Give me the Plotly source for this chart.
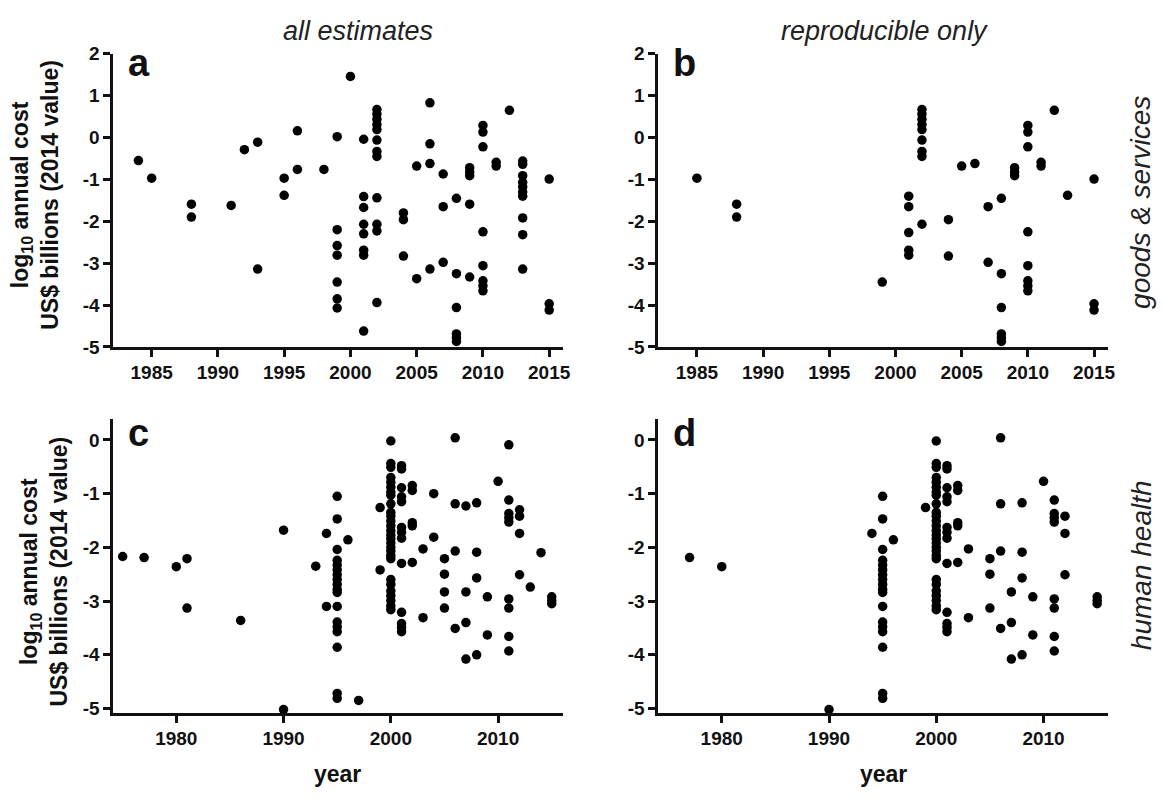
import plotly.graph_objects as go

# ---- data: log10 annual cost (US$ billions, 2014 value) by publication year ----
# goods & services, all estimates
goods_all = {
    1984: [-0.55],
    1985: [-0.97],
    1988: [-1.59, -1.90],
    1991: [-1.62],
    1992: [-0.29],
    1993: [-0.11, -3.14],
    1995: [-0.97, -1.38],
    1996: [0.16, -0.76],
    1998: [-0.76],
    1999: [0.02, -2.20, -2.58, -2.81, -3.45, -3.85, -4.07],
    2000: [1.46],
    2001: [-0.04, -1.41, -1.67, -2.07, -2.30, -2.69, -2.81, -4.62],
    2002: [0.67, 0.56, 0.44, 0.31, 0.19, -0.06, -0.33, -0.45, -1.44, -2.07, -2.23, -3.94],
    2004: [-1.80, -1.96, -2.83],
    2005: [-0.68, -3.37],
    2006: [0.83, -0.15, -0.62, -3.14],
    2007: [-0.87, -1.65, -2.98],
    2008: [-1.45, -3.25, -4.06, -4.69, -4.78, -4.87],
    2009: [-0.72, -0.82, -0.91, -1.59, -3.33],
    2010: [0.29, 0.13, -0.22, -2.25, -3.06, -3.42, -3.54, -3.66],
    2011: [-0.59, -0.68],
    2012: [0.65],
    2013: [-0.56, -0.64, -0.91, -1.07, -1.18, -1.30, -1.40, -1.92, -2.32, -3.14],
    2015: [-0.99, -3.97, -4.12],
}

# goods & services, reproducible estimates only
goods_repro = {
    1985: [-0.97],
    1988: [-1.59, -1.90],
    1999: [-3.45],
    2001: [-1.40, -1.65, -2.27, -2.69, -2.81],
    2002: [0.67, 0.56, 0.44, 0.31, 0.19, -0.06, -0.33, -0.45, -2.07],
    2004: [-1.96, -2.83],
    2005: [-0.68],
    2006: [-0.62],
    2007: [-1.65, -2.98],
    2008: [-1.45, -3.25, -4.06, -4.69, -4.78, -4.87],
    2009: [-0.72, -0.82, -0.91],
    2010: [0.29, 0.13, -0.22, -2.25, -3.06, -3.42, -3.54, -3.66],
    2011: [-0.59, -0.68],
    2012: [0.65],
    2013: [-1.38],
    2015: [-0.99, -3.97, -4.12],
}

# human health, all estimates
health_all = {
    1975: [-2.17],
    1977: [-2.19],
    1980: [-2.36],
    1981: [-2.21, -3.13],
    1986: [-3.36],
    1990: [-1.68, -5.02],
    1993: [-2.35],
    1994: [-1.74, -3.10],
    1995: [-1.05, -1.47, -2.04, -2.24, -2.33, -2.42, -2.51, -2.60, -2.69, -2.78, -2.84,
           -3.10, -3.39, -3.48, -3.57, -3.86, -4.72, -4.81],
    1996: [-1.86],
    1997: [-4.85],
    1999: [-1.26, -2.42],
    2000: [-0.02, -0.44, -0.51, -0.70, -0.79, -0.88, -0.97, -1.03, -1.19, -1.35, -1.42,
           -1.51, -1.60, -1.69, -1.77, -1.84, -1.92, -2.00, -2.07, -2.15, -2.21, -2.60,
           -2.69, -2.81, -2.90, -2.99, -3.09, -3.16],
    2001: [-0.48, -0.54, -0.89, -1.06, -1.15, -1.63, -1.72, -1.83, -2.30, -3.21, -3.42,
           -3.49, -3.57],
    2002: [-0.85, -0.94, -1.54, -1.60, -2.28],
    2003: [-2.03, -3.31],
    2004: [-1.00, -1.81],
    2005: [-2.21, -2.50, -2.83, -3.13],
    2006: [0.04, -1.19, -2.07, -3.51],
    2007: [-1.23, -2.83, -3.40, -4.08],
    2008: [-1.17, -2.09, -2.57, -4.00],
    2009: [-2.92, -3.63],
    2010: [-0.77],
    2011: [-0.09, -1.12, -1.37, -1.45, -1.53, -2.96, -3.13, -3.66, -3.93],
    2012: [-1.30, -1.42, -1.74, -2.51],
    2013: [-2.74],
    2014: [-2.10],
    2015: [-2.92, -2.99, -3.05],
}

# human health, reproducible estimates only
health_repro = {
    1977: [-2.19],
    1980: [-2.36],
    1990: [-5.02],
    1994: [-1.74],
    1995: [-1.05, -1.47, -2.04, -2.24, -2.33, -2.42, -2.51, -2.60, -2.69, -2.78, -2.84,
           -3.10, -3.39, -3.48, -3.57, -3.86, -4.72, -4.81],
    1996: [-1.86],
    1999: [-1.26],
    2000: [-0.02, -0.44, -0.51, -0.70, -0.79, -0.88, -0.97, -1.03, -1.19, -1.35, -1.42,
           -1.51, -1.60, -1.69, -1.77, -1.84, -1.92, -2.00, -2.07, -2.15, -2.21, -2.60,
           -2.69, -2.81, -2.90, -2.99, -3.09, -3.16],
    2001: [-0.48, -0.54, -0.89, -1.06, -1.15, -1.63, -1.72, -1.83, -2.30, -3.21, -3.42,
           -3.49, -3.57],
    2002: [-0.85, -0.94, -1.54, -1.60, -2.28],
    2003: [-2.03, -3.31],
    2005: [-2.21, -2.50, -3.13],
    2006: [0.04, -1.19, -2.07, -3.51],
    2007: [-2.83, -3.40, -4.08],
    2008: [-1.17, -2.09, -2.57, -4.00],
    2009: [-2.92, -3.63],
    2010: [-0.77],
    2011: [-1.12, -1.37, -1.45, -1.53, -2.96, -3.13, -3.66, -3.93],
    2012: [-1.42, -1.74, -2.51],
    2015: [-2.92, -2.99, -3.05],
}

goods_yticks = [-5, -4, -3, -2, -1, 0, 1, 2]
goods_ytext = ["-5", "-4", "-3", "-2", "-1", "0", "1", "2"]
goods_xticks = [1985, 1990, 1995, 2000, 2005, 2010, 2015]
health_yticks = [-5, -4, -3, -2, -1, 0]
health_ytext = ["-5", "-4", "-3", "-2", "-1", "0"]
health_xticks = [1980, 1990, 2000, 2010]

panel_letters = ["a", "b", "c", "d"]
column_titles = ["all estimates", "reproducible only"]
row_titles = ["goods & services", "human health"]
y_title = "<b>log<sub>10</sub> annual cost<br>US$ billions (2014 value)</b>"
x_title = "year"

# ---- layout helpers (pixel positions on a 1164 x 801 canvas) ----
W, H = 1164, 801
FONT = "Arial, Liberation Sans, sans-serif"


def px(x):
    return x / W


def py(y):
    return 1 - y / H


def expand(d):
    xs, ys = [], []
    for yr, vals in d.items():
        for v in vals:
            xs.append(yr)
            ys.append(v)
    return xs, ys


fig = go.Figure()

panels = [
    (goods_all, "x", "y"),
    (goods_repro, "x2", "y2"),
    (health_all, "x3", "y3"),
    (health_repro, "x4", "y4"),
]
for d, xa, ya in panels:
    xs, ys = expand(d)
    fig.add_trace(go.Scatter(
        x=xs, y=ys, mode="markers", xaxis=xa, yaxis=ya,
        marker=dict(color="black", size=9.5, line=dict(width=0)),
        cliponaxis=False, showlegend=False, hoverinfo="x+y",
    ))

axis_common = dict(
    showline=True, linecolor="#111", linewidth=2.5, ticks="outside",
    ticklen=7, tickwidth=2.5, tickcolor="#111", showgrid=False, zeroline=False,
    tickfont=dict(family=FONT, size=19, color="#111", weight="bold"),
    mirror=False, fixedrange=True,
)

left_x = [px(114), px(567)]
right_x = [px(662.7), px(1116)]
top_y = [py(346), py(45)]
bot_y = [py(721.7), py(420)]

fig.update_layout(
    width=W, height=H, margin=dict(l=0, r=0, t=0, b=0),
    paper_bgcolor="white", plot_bgcolor="white",
    xaxis=dict(axis_common, domain=left_x, range=[1982.1, 2016.05], anchor="y",
               tickvals=goods_xticks),
    yaxis=dict(axis_common, domain=top_y, range=[-5, 2], anchor="x",
               tickvals=goods_yticks, ticktext=goods_ytext),
    xaxis2=dict(axis_common, domain=right_x, range=[1982.07, 2016.08], anchor="y2",
                tickvals=goods_xticks),
    yaxis2=dict(axis_common, domain=top_y, range=[-5, 2], anchor="x2",
                tickvals=goods_yticks, ticktext=goods_ytext),
    xaxis3=dict(axis_common, domain=left_x, range=[1974.12, 2016.06], anchor="y3",
                tickvals=health_xticks),
    yaxis3=dict(axis_common, domain=bot_y, range=[-5.08, 0.39], anchor="x3",
                tickvals=health_yticks, ticktext=health_ytext),
    xaxis4=dict(axis_common, domain=right_x, range=[1974.07, 2016.04], anchor="y4",
                tickvals=health_xticks),
    yaxis4=dict(axis_common, domain=bot_y, range=[-5.08, 0.39], anchor="x4",
                tickvals=health_yticks, ticktext=health_ytext),
)

ann = []
# panel letters
for letter, (x, y) in zip(panel_letters, [(127, 78), (676, 78), (127, 458), (676, 458)]):
    ann.append(dict(text=letter, x=px(x), y=py(y), xref="paper", yref="paper",
                    xanchor="left", yanchor="bottom", showarrow=False,
                    font=dict(family=FONT, size=38, color="#111", weight="bold")))
# column titles
for t, x in zip(column_titles, [360, 891]):
    ann.append(dict(text=t, x=px(x), y=py(22), xref="paper", yref="paper",
                    xanchor="center", yanchor="middle", showarrow=False,
                    font=dict(family=FONT, size=27, color="#222", style="italic")))
# row titles on the right
for t, y in zip(row_titles, [198, 570]):
    ann.append(dict(text=t, x=px(1149), y=py(y), xref="paper", yref="paper",
                    xanchor="center", yanchor="middle", showarrow=False, textangle=-90,
                    font=dict(family=FONT, size=28, color="#222", style="italic")))
# y axis titles
for x, y in [(35, 190), (44, 577)]:
    ann.append(dict(text=y_title, x=px(x), y=py(y), xref="paper", yref="paper",
                    xanchor="center", yanchor="middle", showarrow=False, textangle=-90,
                    font=dict(family=FONT, size=23, color="#111")))
# x axis titles
for x in [340, 890]:
    ann.append(dict(text=f"<b>{x_title}</b>", x=px(x), y=py(785), xref="paper",
                    yref="paper", xanchor="center", yanchor="middle", showarrow=False,
                    font=dict(family=FONT, size=23, color="#111")))
fig.update_layout(annotations=ann)

fig.write_html("out.html")
